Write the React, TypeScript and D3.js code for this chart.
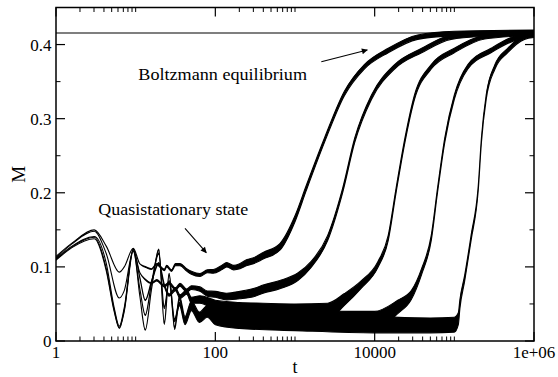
import React from 'react';
import * as d3 from 'd3';

const W = 558;
const H = 377;
const PL = 56, PR = 534, PT = 7.5, PB = 341;

// ---- axis definitions ----
const xMajorTicks = [1, 100, 10000, 1000000];
const xMajorLabels = ['1', '100', '10000', '1e+06'];
const xMinorMultipliers = [2, 3, 4, 5, 6, 7, 8, 9, 10];
const yMajorTicks = [0, 0.1, 0.2, 0.3, 0.4];
const yMajorLabels = ['0', '0.1', '0.2', '0.3', '0.4'];
const yMinorTicks = [0.05, 0.15, 0.25, 0.35];
const equilibriumM = 0.4155;

// ---- series (t, M, noise half-width) ----
const tA = [1, 1.585, 3.02, 4.27, 6.24, 7.19, 9.33, 11.3, 13.2, 15.8, 18.4, 20, 22.9, 24.5, 28.2, 31.6, 36, 43.7, 50.1, 64.1, 79.4, 94.2, 120, 139, 170, 204, 250, 295, 398, 646, 1000, 1380, 2344, 4169, 7413, 14791, 34674, 100000, 1000000];
const mA = [0.114, 0.132, 0.150, 0.128, 0.093, 0.100, 0.125, 0.104, 0.100, 0.097, 0.104, 0.101, 0.096, 0.101, 0.095, 0.103, 0.103, 0.096, 0.092, 0.089, 0.094, 0.094, 0.099, 0.103, 0.099, 0.101, 0.106, 0.108, 0.115, 0.127, 0.165, 0.206, 0.271, 0.334, 0.370, 0.392, 0.410, 0.415, 0.417];
const wA = [0, 0, 0, 0, 0, 0, 0, 0, 0.0005, 0.0005, 0.0005, 0.001, 0.001, 0.001, 0.001, 0.0015, 0.0015, 0.0015, 0.002, 0.002, 0.002, 0.0025, 0.003, 0.003, 0.003, 0.0035, 0.004, 0.004, 0.0045, 0.0045, 0.004, 0.0035, 0.003, 0.003, 0.003, 0.003, 0.003, 0.003, 0.0025];

const tB = [1, 1.585, 3.02, 4.27, 6.24, 7.19, 9.33, 11.3, 13.2, 15.8, 18.4, 22.9, 26.3, 31.6, 36, 43.7, 50.1, 64.1, 79.4, 100, 139, 204, 316, 398, 646, 1096, 1585, 2570, 3981, 5623, 9120, 17783, 38905, 91201, 316228, 1000000];
const mB = [0.112, 0.131, 0.148, 0.118, 0.058, 0.068, 0.122, 0.092, 0.083, 0.078, 0.082, 0.074, 0.078, 0.070, 0.076, 0.068, 0.072, 0.070, 0.064, 0.063, 0.060, 0.062, 0.066, 0.070, 0.076, 0.087, 0.103, 0.139, 0.204, 0.271, 0.329, 0.370, 0.392, 0.410, 0.415, 0.416];
const wB = [0, 0, 0, 0, 0, 0, 0, 0, 0.0005, 0.0005, 0.001, 0.001, 0.0015, 0.0015, 0.002, 0.002, 0.0025, 0.003, 0.0035, 0.004, 0.0045, 0.005, 0.0055, 0.0055, 0.0055, 0.005, 0.004, 0.0035, 0.003, 0.003, 0.003, 0.003, 0.003, 0.003, 0.003, 0.0025];

const tC = [1, 1.585, 3.02, 4.27, 5.37, 6.24, 7.19, 9.33, 11.3, 13.2, 15.8, 19.5, 22.9, 26.3, 31.6, 36, 43.7, 50.1, 64.1, 100, 200, 398, 1000, 2570, 4169, 6761, 10965, 14791, 18621, 23988, 31623, 51286, 100000, 239883, 1000000];
const mC = [0.111, 0.128, 0.141, 0.105, 0.045, 0.020, 0.045, 0.124, 0.085, 0.055, 0.080, 0.105, 0.075, 0.062, 0.070, 0.060, 0.066, 0.055, 0.056, 0.048, 0.042, 0.039, 0.038, 0.040, 0.056, 0.076, 0.103, 0.139, 0.204, 0.271, 0.329, 0.370, 0.392, 0.410, 0.415];
const wC = [0, 0, 0, 0, 0, 0, 0, 0, 0.0005, 0.0005, 0.001, 0.001, 0.0015, 0.0015, 0.002, 0.0025, 0.003, 0.004, 0.005, 0.007, 0.010, 0.012, 0.012, 0.011, 0.008, 0.005, 0.004, 0.0035, 0.003, 0.003, 0.003, 0.003, 0.003, 0.0025, 0.0025];

const tD = [1, 1.585, 3.02, 4.27, 5.37, 6.24, 7.19, 9.33, 11.3, 13.2, 15.8, 19.5, 22.9, 26.3, 30.9, 35.5, 41.7, 50.1, 63.1, 79.4, 100, 200, 1000, 5000, 10000, 19498, 28840, 38905, 51286, 61660, 75858, 100000, 147911, 288403, 630957, 1000000];
const mD = [0.110, 0.127, 0.140, 0.098, 0.042, 0.018, 0.042, 0.124, 0.060, 0.015, 0.070, 0.123, 0.024, 0.090, 0.0175, 0.058, 0.030, 0.050, 0.034, 0.042, 0.034, 0.030, 0.028, 0.027, 0.028, 0.046, 0.062, 0.094, 0.139, 0.204, 0.271, 0.329, 0.370, 0.392, 0.410, 0.413];
const wD = [0, 0, 0, 0, 0, 0, 0, 0, 0, 0.0005, 0.0005, 0.001, 0.0015, 0.0015, 0.002, 0.0025, 0.003, 0.004, 0.005, 0.006, 0.008, 0.011, 0.013, 0.013, 0.012, 0.009, 0.006, 0.004, 0.0035, 0.003, 0.003, 0.003, 0.003, 0.003, 0.003, 0.0025];

const tE = [1, 1.585, 3.02, 4.27, 5.37, 6.24, 7.19, 9.33, 11.3, 13.2, 15.8, 19.5, 22.9, 26.3, 30.9, 35.5, 41.7, 50.1, 63.1, 79.4, 100, 200, 1000, 10000, 50000, 100000, 112202, 117490, 134896, 162181, 199526, 218776, 251189, 323594, 467735, 758578, 1000000];
const mE = [0.109, 0.126, 0.138, 0.095, 0.040, 0.017, 0.040, 0.121, 0.070, 0.035, 0.078, 0.118, 0.045, 0.080, 0.028, 0.050, 0.025, 0.045, 0.030, 0.038, 0.030, 0.027, 0.025, 0.022, 0.021, 0.022, 0.030, 0.050, 0.085, 0.139, 0.206, 0.271, 0.329, 0.370, 0.392, 0.410, 0.412];
const wE = [0, 0, 0, 0, 0, 0, 0, 0, 0, 0.0005, 0.0005, 0.001, 0.0015, 0.0015, 0.002, 0.0025, 0.003, 0.004, 0.005, 0.006, 0.008, 0.010, 0.011, 0.011, 0.010, 0.010, 0.008, 0.006, 0.004, 0.0035, 0.003, 0.003, 0.003, 0.003, 0.003, 0.003, 0.0025];

const series = [
  { t: tA, m: mA, w: wA },
  { t: tB, m: mB, w: wB },
  { t: tC, m: mC, w: wC },
  { t: tD, m: mD, w: wD },
  { t: tE, m: mE, w: wE },
];

const FONT = "'Liberation Serif', 'Times New Roman', Tinos, 'Nimbus Roman', 'DejaVu Serif', 'Noto Serif', FreeSerif, serif";

export default function App() {
  const x = d3.scaleLog().domain([1, 1e6]).range([PL, PR]);
  const y = d3.scaleLinear().domain([0, 0.45]).range([PB, PT]);

  const area = d3
    .area<{ t: number; lo: number; hi: number }>()
    .x((d) => x(d.t))
    .y0((d) => y(d.lo))
    .y1((d) => y(d.hi))
    .curve(d3.curveMonotoneX);

  const xMinor: number[] = [];
  xMajorTicks.slice(0, -1).forEach((v) => xMinorMultipliers.forEach((k) => xMinor.push(v * k)));

  const major = 9;
  const minor = 4.5;

  return (
    <svg width={W} height={H} fontFamily={FONT} style={{ position: 'absolute', left: 0, top: 0, background: '#fff', fontFamily: FONT }}>
      <defs>
        <clipPath id="plot">
          <rect x={PL} y={PT} width={PR - PL} height={PB - PT} />
        </clipPath>
        <marker id="arr" viewBox="0 0 10 10" refX="9" refY="5" markerWidth="8" markerHeight="6" orient="auto" markerUnits="userSpaceOnUse">
          <path d="M0,0 L10,5 L0,10 z" fill="#000" />
        </marker>
      </defs>
      <rect x={0} y={0} width={W} height={H} fill="#fff" />

      <g clipPath="url(#plot)">
        <line x1={PL} x2={PR} y1={y(equilibriumM)} y2={y(equilibriumM)} stroke="#000" strokeWidth={1.1} />
        {series.map((s, i) => {
          const pts = s.t.map((t, j) => ({ t, lo: s.m[j] - s.w[j], hi: s.m[j] + s.w[j] }));
          return (
            <path
              key={i}
              d={area(pts) || ''}
              fill="#000"
              stroke="#000"
              strokeWidth={1.1}
              strokeLinejoin="round"
            />
          );
        })}
      </g>

      {/* frame */}
      <rect x={PL} y={PT} width={PR - PL} height={PB - PT} fill="none" stroke="#000" strokeWidth={1.5} />

      {/* x ticks */}
      {xMajorTicks.map((v) => (
        <g key={'xM' + v}>
          <line x1={x(v)} x2={x(v)} y1={PB} y2={PB - major} stroke="#000" strokeWidth={1.2} />
          <line x1={x(v)} x2={x(v)} y1={PT} y2={PT + major} stroke="#000" strokeWidth={1.2} />
        </g>
      ))}
      {xMinor.map((v) => (
        <g key={'xm' + v}>
          <line x1={x(v)} x2={x(v)} y1={PB} y2={PB - minor} stroke="#000" strokeWidth={1} />
          <line x1={x(v)} x2={x(v)} y1={PT} y2={PT + minor} stroke="#000" strokeWidth={1} />
        </g>
      ))}
      {xMajorTicks.map((v, i) => (
        <text key={'xl' + v} x={x(v)} y={357.5} textAnchor="middle" fontSize={17}>
          {xMajorLabels[i]}
        </text>
      ))}

      {/* y ticks */}
      {yMajorTicks.map((v) => (
        <g key={'yM' + v}>
          <line x1={PL} x2={PL + major} y1={y(v)} y2={y(v)} stroke="#000" strokeWidth={1.2} />
          <line x1={PR} x2={PR - major} y1={y(v)} y2={y(v)} stroke="#000" strokeWidth={1.2} />
        </g>
      ))}
      {yMinorTicks.map((v) => (
        <g key={'ym' + v}>
          <line x1={PL} x2={PL + minor} y1={y(v)} y2={y(v)} stroke="#000" strokeWidth={1} />
          <line x1={PR} x2={PR - minor} y1={y(v)} y2={y(v)} stroke="#000" strokeWidth={1} />
        </g>
      ))}
      {yMajorTicks.map((v, i) => (
        <text key={'yl' + v} x={51.5} y={y(v) + 6} textAnchor="end" fontSize={17}>
          {yMajorLabels[i]}
        </text>
      ))}

      {/* axis titles */}
      <text x={(PL + PR) / 2} y={373} textAnchor="middle" fontSize={18}>
        t
      </text>
      <text transform={`translate(24.5, ${(PT + PB) / 2}) rotate(-90)`} textAnchor="middle" fontSize={19}>
        M
      </text>

      {/* annotations */}
      <text x={138.3} y={80} fontSize={16} textLength={168.7} lengthAdjust="spacingAndGlyphs">
        Boltzmann equilibrium
      </text>
      <line x1={321.3} y1={61.7} x2={367.3} y2={50} stroke="#000" strokeWidth={1.1} markerEnd="url(#arr)" />
      <text x={98.3} y={215.3} fontSize={16} textLength={150} lengthAdjust="spacingAndGlyphs">
        Quasistationary state
      </text>
      <line x1={185} y1={228.3} x2={206.3} y2={252.7} stroke="#000" strokeWidth={1.1} markerEnd="url(#arr)" />
    </svg>
  );
}
